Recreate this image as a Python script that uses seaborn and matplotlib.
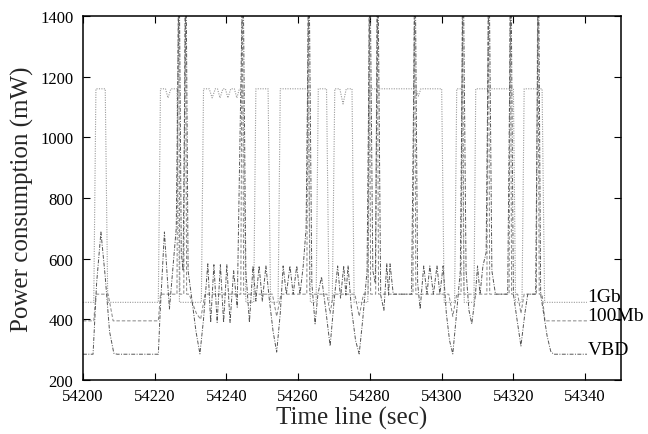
import matplotlib
matplotlib.use("Agg")
import matplotlib.pyplot as plt
import seaborn as sns
import pandas as pd

# ---------------- data ----------------
t_1gb = [54200, 54203.0, 54203.6, 54206.2, 54206.9, 54221.0, 54221.6, 54223.0, 54223.7, 54224.5,
         54226.2, 54226.9, 54233.0, 54233.6, 54235.2, 54236.0, 54236.9, 54237.5, 54238.2, 54239.0,
         54239.7, 54240.4, 54241.2, 54242.2, 54242.9, 54243.6, 54244.6, 54245.4, 54247.6, 54248.2,
         54251.6, 54252.3, 54254.4, 54255.0, 54262.7, 54263.4, 54265.0, 54265.6, 54267.9, 54268.6,
         54269.5, 54270.2, 54271.6, 54272.5, 54273.4, 54275.0, 54275.6, 54279.4, 54280.0, 54292.8,
         54293.5, 54294.2, 54300.0, 54300.7, 54303.6, 54304.2, 54305.6, 54306.3, 54309.0, 54309.5,
         54320.0, 54320.6, 54322.4, 54323.0, 54328.0, 54328.7, 54340.5]
v_1gb = [456, 456, 1160, 1160, 456, 456, 1160, 1160, 1130, 1160,
         1160, 456, 456, 1160, 1160, 1130, 1160, 1160, 1130, 1160,
         1160, 1130, 1160, 1160, 1130, 1160, 1160, 456, 456, 1160,
         1160, 456, 456, 1160, 1160, 456, 456, 1160, 1160, 456,
         456, 1160, 1160, 1110, 1160, 1160, 456, 456, 1160, 1160,
         1136, 1160, 1160, 456, 456, 1160, 1160, 456, 456, 1160,
         1160, 456, 456, 1160, 1160, 456, 456]

t_100mb = [54200, 54203.0, 54203.6, 54207.0, 54208.4, 54221.0, 54221.6, 54226.2, 54226.6, 54227.0,
           54228.1, 54228.5, 54228.9, 54229.6, 54231.6, 54232.8, 54234.0, 54244.0, 54244.4, 54244.8,
           54252.8, 54254.0, 54255.2, 54262.4, 54262.8, 54263.2, 54268.0, 54268.9, 54269.8, 54275.8,
           54277.0, 54278.2, 54279.5, 54279.8, 54280.2, 54281.6, 54282.0, 54282.4, 54292.0, 54292.4,
           54292.8, 54302.0, 54303.1, 54304.2, 54305.4, 54305.8, 54306.2, 54312.6, 54313.0, 54313.4,
           54318.8, 54319.1, 54319.5, 54321.2, 54322.1, 54323.0, 54326.4, 54326.8, 54327.2, 54328.0,
           54328.8, 54340.5]
v_100mb = [395, 395, 483, 483, 395, 395, 483, 483, 1600, 483,
           483, 1600, 483, 483, 420, 400, 483, 483, 1600, 483,
           483, 410, 483, 483, 1600, 483, 483, 420, 483, 483,
           410, 483, 483, 1600, 483, 483, 1600, 483, 483, 1600,
           483, 483, 410, 483, 483, 1600, 483, 483, 1600, 483,
           483, 1600, 483, 483, 420, 483, 483, 1600, 483, 483,
           395, 395]

t_vbd = [54200, 54202.8, 54203.8, 54205.0, 54206.2, 54207.4, 54208.6, 54209.5, 54221.0, 54221.5,
         54222.7, 54223.6, 54224.1, 54225.0, 54226.0, 54226.8, 54227.4, 54227.9, 54228.7, 54229.3,
         54230.2, 54231.5, 54232.6, 54233.6, 54234.8, 54235.6, 54236.5, 54237.4, 54238.3, 54239.2,
         54240.1, 54241.0, 54242.0, 54243.0, 54244.6, 54245.4, 54246.4, 54247.4, 54248.2, 54249.1,
         54250.0, 54251.0, 54252.0, 54253.0, 54254.0, 54255.0, 54255.8, 54256.7, 54257.7, 54258.6,
         54259.6, 54260.5, 54261.4, 54262.2, 54263.0, 54263.8, 54264.7, 54265.5, 54266.5, 54267.8,
         54268.9, 54270.0, 54271.0, 54271.8, 54272.7, 54273.3, 54273.9, 54274.8, 54276.0, 54277.0,
         54278.0, 54279.2, 54280.0, 54280.8, 54281.5, 54282.2, 54283.0, 54283.9, 54284.7, 54285.2,
         54285.6, 54286.5, 54291.6, 54292.6, 54293.3, 54294.0, 54295.0, 54295.9, 54296.7, 54297.7,
         54298.7, 54299.5, 54300.4, 54301.3, 54302.2, 54303.1, 54304.0, 54305.2, 54306.0, 54306.8,
         54307.6, 54308.4, 54309.4, 54310.0, 54310.7, 54311.5, 54312.4, 54313.2, 54314.0, 54315.0,
         54318.4, 54319.3, 54320.0, 54321.0, 54322.1, 54323.2, 54324.0, 54326.2, 54327.0, 54327.6,
         54329.4, 54330.4, 54331.2, 54340.5]
v_vbd = [285, 285, 520, 688, 540, 360, 288, 285, 285, 420,
         688, 520, 434, 560, 700, 1600, 620, 560, 1600, 560,
         480, 360, 286, 400, 583, 390, 580, 390, 580, 390,
         580, 390, 560, 440, 1600, 560, 390, 576, 460, 576,
         460, 576, 460, 360, 292, 420, 576, 483, 576, 483,
         576, 483, 576, 700, 1600, 520, 385, 483, 540, 420,
         312, 460, 576, 470, 576, 480, 576, 440, 330, 286,
         400, 560, 1600, 560, 520, 1600, 480, 430, 583, 480,
         583, 483, 483, 1600, 520, 434, 576, 483, 576, 483,
         576, 483, 576, 420, 330, 286, 400, 560, 1600, 560,
         430, 385, 480, 576, 483, 576, 620, 1600, 560, 483,
         483, 1600, 483, 400, 312, 420, 483, 483, 1600, 483,
         345, 295, 285, 285]

series_names = ["1Gb", "100Mb", "VBD"]
label_values = [475, 411, 302]
x_ticks = [54200, 54220, 54240, 54260, 54280, 54300, 54320, 54340]
y_ticks = [200, 400, 600, 800, 1000, 1200, 1400]

# ---------------- styling ----------------
sns.set_style("ticks")
plt.rcParams["font.family"] = ["Liberation Serif", "DejaVu Serif"]

fig = plt.figure(figsize=(6.48, 4.35), dpi=100)
ax = fig.add_axes([83 / 648, 1 - 381 / 435, (621 - 83) / 648, (381 - 17) / 435])

styles = [
    dict(color="#9a9a9a", linestyle=(0, (1, 1.2)), linewidth=0.8),
    dict(color="#858585", linestyle=(0, (3.5, 2)), linewidth=0.7),
    dict(color="#555555", linestyle=(0, (4, 1.5, 1, 1.5)), linewidth=0.7),
]

data = [(t_1gb, v_1gb), (t_100mb, v_100mb), (t_vbd, v_vbd)]
for (tt, vv), st in zip(data, styles):
    df = pd.DataFrame({"t": tt, "v": vv})
    sns.lineplot(data=df, x="t", y="v", ax=ax, estimator=None, sort=False, **st)

for name, lv in zip(series_names, label_values):
    ax.text(54340.7, lv, name, fontsize=14, ha="left", va="center",
            clip_on=False, color="black")

ax.set_xlim(54200, 54350)
ax.set_ylim(200, 1400)
ax.set_xticks(x_ticks)
ax.set_yticks(y_ticks)
ax.tick_params(direction="in", length=5, width=0.8, top=True, right=True,
               labelsize=12, colors="black")
ax.tick_params(axis="x", pad=6)
ax.tick_params(axis="y", pad=7)
for s in ax.spines.values():
    s.set_linewidth(1.1)
    s.set_color("black")
    s.set_visible(True)

ax.set_xlabel("Time line (sec)", fontsize=18, labelpad=1)
ax.set_ylabel("Power consumption (mW)", fontsize=18, labelpad=4)

fig.savefig("out.png", dpi=100)
